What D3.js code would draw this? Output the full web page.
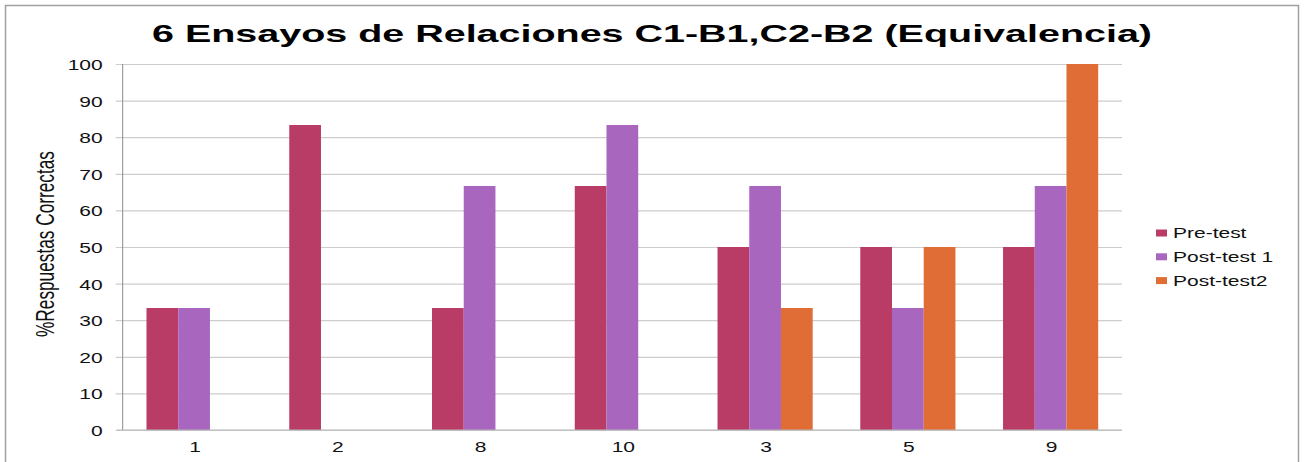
<!DOCTYPE html>
<html><head><meta charset="utf-8">
<script src="https://cdn.jsdelivr.net/npm/d3@7"></script>
<style>html,body{margin:0;padding:0;background:#fff;}svg{display:block;}</style>
</head><body>
<svg id="chart" width="1310" height="462"></svg>
<script>
const categories = ["1", "2", "8", "10", "3", "5", "9"];
const seriesNames = ["Pre-test", "Post-test 1", "Post-test2"];
const preTest   = [33.33, 83.33, 33.33, 66.67, 50, 50, 50];
const postTest1 = [33.33, 0, 66.67, 83.33, 66.67, 33.33, 66.67];
const postTest2 = [0, 0, 0, 0, 33.33, 50, 100];
const yTicks = [0, 10, 20, 30, 40, 50, 60, 70, 80, 90, 100];
const titleText = "6 Ensayos de Relaciones C1-B1,C2-B2 (Equivalencia)";
const yTitle = "%Respuestas Correctas";
const colors = ["#B93C67", "#A966BF", "#E06C36"];

const seriesValues = [preTest, postTest1, postTest2];
const svg = d3.select("#chart");
const font = "'Liberation Sans', Arial, sans-serif";
const SX = 1.5;

// outer border
svg.append("rect").attr("x", 5.5).attr("y", 5.5).attr("width", 1293).attr("height", 470)
  .attr("fill", "#fff").attr("stroke", "#a0a0a0").attr("stroke-width", 1.5);

const L = 122.7, R = 1122, T = 64, B = 430;
const x0 = d3.scaleBand().domain(categories).range([L, R]).paddingInner(1/3).paddingOuter(1/6);
const x1 = d3.scaleBand().domain(seriesNames).range([0, x0.bandwidth()]);
const y = d3.scaleLinear().domain([0, 100]).range([B, T]);

// gridlines + y axis
const yAxis = d3.axisLeft(y).tickValues(yTicks).tickSize(-(R - L)).tickSizeOuter(0).tickPadding(0);
const gy = svg.append("g").attr("transform", `translate(${L},0)`).call(yAxis);
gy.select(".domain").remove();
gy.selectAll(".tick line").attr("x1", -7).attr("stroke", "#cdcdcd").attr("stroke-width", 1.2);
gy.selectAll(".tick text").remove();
gy.selectAll(".tick").append("text")
  .attr("transform", `translate(-20,0) scale(${SX},1)`)
  .attr("text-anchor", "end").attr("dominant-baseline", "central").attr("dy", "0.05em")
  .attr("font-family", font).attr("font-size", 14).attr("fill", "#111")
  .text(d => d);

// vertical axis line
svg.append("line").attr("x1", L).attr("x2", L).attr("y1", T).attr("y2", B)
  .attr("stroke", "#8a8a8a").attr("stroke-width", 1);

// bars
const groups = svg.append("g").selectAll("g").data(categories).join("g")
  .attr("transform", d => `translate(${x0(d)},0)`);
groups.selectAll("rect")
  .data((c, i) => seriesNames.map((s, j) => ({ s, j, v: seriesValues[j][i] })))
  .join("rect")
  .attr("x", d => x1(d.s)).attr("width", x1.bandwidth())
  .attr("y", d => y(d.v)).attr("height", d => B - y(d.v))
  .attr("fill", d => colors[d.j]);

// x axis line
svg.append("line").attr("x1", L - 6).attr("x2", R).attr("y1", B).attr("y2", B)
  .attr("stroke", "#b5b5b5").attr("stroke-width", 1.2);

// x labels
const xAxis = d3.axisBottom(x0).tickSize(0).tickPadding(0);
const gx = svg.append("g").attr("transform", `translate(0,${B})`).call(xAxis);
gx.select(".domain").remove();
gx.selectAll(".tick text").remove();
gx.selectAll(".tick").append("text")
  .attr("transform", `translate(1,21.7) scale(${SX},1)`)
  .attr("text-anchor", "middle")
  .attr("font-family", font).attr("font-size", 14).attr("fill", "#111")
  .text(d => d);

// title
svg.append("text").attr("x", 152).attr("y", 42)
  .attr("textLength", 1000).attr("lengthAdjust", "spacingAndGlyphs")
  .attr("font-family", font).attr("font-weight", "bold").attr("font-size", 24.5).attr("fill", "#000")
  .text(titleText);

// y title
svg.append("text")
  .attr("transform", `translate(54,244) scale(${SX},1) rotate(-90)`)
  .attr("text-anchor", "middle")
  .attr("font-family", font).attr("font-size", 17.5).attr("fill", "#111")
  .attr("textLength", 186).attr("lengthAdjust", "spacingAndGlyphs")
  .text(yTitle);

// legend
const leg = svg.append("g").selectAll("g").data(seriesNames).join("g")
  .attr("transform", (d, i) => `translate(1156,${233 + i * 23.8})`);
leg.append("rect").attr("x", 0).attr("y", -3.5).attr("width", 11).attr("height", 7)
  .attr("fill", (d, i) => colors[i]);
leg.append("text")
  .attr("transform", `translate(17,0) scale(${SX},1)`)
  .attr("dominant-baseline", "central").attr("dy", "0.05em")
  .attr("font-family", font).attr("font-size", 14).attr("fill", "#111")
  .text(d => d);
</script>
</body></html>
